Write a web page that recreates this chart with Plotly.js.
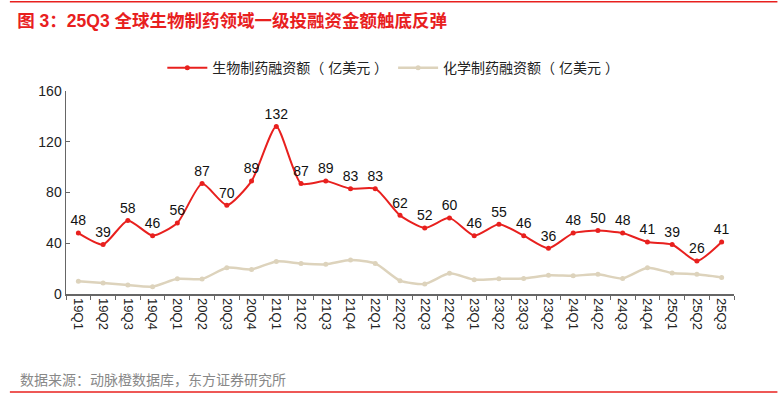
<!DOCTYPE html>
<html><head><meta charset="utf-8">
<script src="https://cdn.plot.ly/plotly-3.0.1.min.js"></script>
<style>html,body{margin:0;padding:0;background:#fff}#chart{width:782px;height:396px}</style>
</head><body><div id="chart"></div>
<script>
const categories = ["19Q1","19Q2","19Q3","19Q4","20Q1","20Q2","20Q3","20Q4","21Q1","21Q2","21Q3","21Q4","22Q1","22Q2","22Q3","22Q4","23Q1","23Q2","23Q3","23Q4","24Q1","24Q2","24Q3","24Q4","25Q1","25Q2","25Q3"];
const bioValues = [48,39,58,46,56,87,70,89,132,87,89,83,83,62,52,60,46,55,46,36,48,50,48,41,39,26,41];
const chemValues = [10,8.7,7,5.8,12,11.8,20.7,19.4,25.7,24.1,23.4,26.8,24.1,10.5,7.9,16.3,11.3,12,12.3,14.7,14.4,15.5,12.3,20.7,16.5,15.5,13.1];
const yTicks = [0,40,80,120,160];
const seriesNames = ["生物制药融资额（ 亿美元 ）","化学制药融资额（ 亿美元 ）"];
const titleText = "图 3：25Q3 全球生物制药领域一级投融资金额触底反弹";
const sourceText = "数据来源：动脉橙数据库，东方证券研究所";

const font = "Arial, 'Liberation Sans', 'Noto Sans CJK SC', sans-serif";
const traces = [
  {x: categories, y: bioValues, name: seriesNames[0], type: 'scatter', mode: 'lines+markers+text',
   text: bioValues.map(String), textposition: 'top center', textfont: {size: 14, color: '#111', family: font},
   line: {color: '#e8201e', width: 2, shape: 'spline', smoothing: 0.6}, marker: {color: '#e8201e', size: 5}, cliponaxis: false},
  {x: categories, y: chemValues, name: seriesNames[1], type: 'scatter', mode: 'lines+markers',
   line: {color: '#ddd3bc', width: 2.5, shape: 'spline', smoothing: 0.6}, marker: {color: '#ddd3bc', size: 5}}
];
const layout = {
  width: 782, height: 396,
  margin: {l: 66, r: 48, t: 91, b: 102},
  paper_bgcolor: '#fff', plot_bgcolor: '#fff',
  font: {family: font, color: '#333', size: 13},
  title: {text: titleText, x: 0.022, xanchor: 'left', y: 0.948, yanchor: 'middle',
          font: {size: 17.5, color: '#e8201e', family: font, weight: 'bold'}},
  showlegend: true,
  legend: {orientation: 'h', x: 0.49, xanchor: 'center', y: 1.113, yanchor: 'middle',
           font: {size: 14, color: '#222', family: font}, traceorder: 'normal', itemwidth: 40},
  xaxis: {type: 'category', range: [-0.5, 26.5], showline: true, linecolor: '#666', linewidth: 1.5,
          ticks: 'outside', ticklen: 4, tickcolor: '#666', tickson: 'boundaries', tickangle: 90,
          tickfont: {size: 13, color: '#222'}, showgrid: false, zeroline: false, fixedrange: true},
  yaxis: {range: [0, 160], tickvals: yTicks, showline: true, linecolor: '#666', linewidth: 1.5,
          ticks: 'inside', ticklen: 4, tickcolor: '#666', tickfont: {size: 14, color: '#222'},
          showgrid: false, zeroline: false, fixedrange: true},
  shapes: [
    {type: 'line', xref: 'paper', yref: 'paper', x0: -0.084, x1: 1.065, y0: 1.44, y1: 1.44, line: {color: '#e8201e', width: 1.5}},
    {type: 'line', xref: 'paper', yref: 'paper', x0: -0.084, x1: 1.065, y0: -0.483, y1: -0.483, line: {color: '#e8201e', width: 1.5}}
  ],
  annotations: [
    {text: sourceText, xref: 'paper', yref: 'paper', x: -0.072, y: -0.423, xanchor: 'left', yanchor: 'middle',
     showarrow: false, font: {size: 14, color: '#888', family: font}}
  ]
};
Plotly.newPlot('chart', traces, layout, {displayModeBar: false, staticPlot: true});
</script></body></html>
